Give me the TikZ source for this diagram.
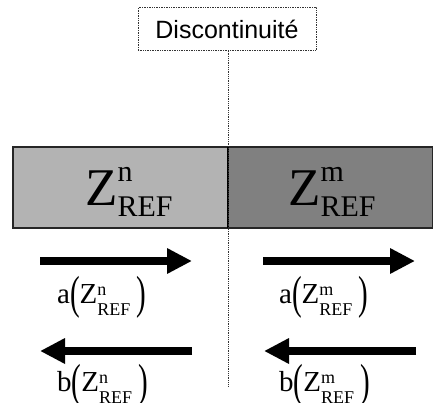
\documentclass[tikz,border=0pt]{standalone}
\usepackage{fontspec}
\setmainfont{Liberation Serif}
\newfontfamily\arialf{Liberation Sans}
\usepackage{graphicx}
\usetikzlibrary{arrows.meta}
\definecolor{lgray}{HTML}{B3B3B3}
\definecolor{dgray}{HTML}{808080}
\newcommand{\zlab}[2]{\fontsize{29}{29}\selectfont #1\raisebox{-5pt}{\scalebox{1}[1.6]{(}}Z\makebox[0pt][l]{\raisebox{8pt}{\fontsize{18}{18}\selectfont #2}}\raisebox{-12pt}{\fontsize{18}{18}\selectfont REF}\hspace{6pt}\raisebox{-5pt}{\scalebox{1}[1.6]{)}}}
\newcommand{\zbig}[1]{\fontsize{53}{53}\selectfont Z\makebox[0pt][l]{\raisebox{24pt}{\fontsize{30}{30}\selectfont #1}}\raisebox{-11pt}{\fontsize{30}{30}\selectfont REF}}
\tikzset{
  wave/.style={line width=7.5pt,-{Triangle[length=25pt,width=24pt]}},
  lbl/.style={inner sep=0pt,anchor=base west},
  dots/.style={densely dotted,line width=0.8pt,draw=black!80}
}
\begin{document}
\begin{tikzpicture}[x=1pt,y=-1pt]
\useasboundingbox (0,0) rectangle (433,403);
% blocks
\path[fill=lgray] (13,147) rectangle (228,228);
\path[fill=dgray] (228,147) rectangle (433,228);
\draw[line width=1.4pt,draw=black!85] (13,147) rectangle (432.3,228);
\draw[line width=1.2pt] (228,147) -- (228,228);
% discontinuity box
\node[draw,dots,line width=0.7pt,minimum width=178pt,minimum height=43pt,inner sep=0pt,font=\arialf\fontsize{25}{25}\selectfont] (disc) at (227,29) {Discontinuité};
\coordinate (lineend) at (228,386);
\draw[dots] (disc.south -| lineend) -- (lineend);
% big labels
\node[lbl] (zn) at (85,206) {\zbig{n}};
\node[lbl] (zm) at (288,206) {\zbig{m}};
% arrows
\coordinate (a1s) at (40,261); \coordinate (a1e) at (192,261);
\coordinate (a2s) at (263,261); \coordinate (a2e) at (415,261);
\coordinate (b1s) at (192,351); \coordinate (b1e) at (40,351);
\coordinate (b2s) at (416,351); \coordinate (b2e) at (264,351);
\draw[wave] (a1s) -- (a1e);
\draw[wave] (a2s) -- (a2e);
\draw[wave] (b1s) -- (b1e);
\draw[wave] (b2s) -- (b2e);
% small labels
\node[lbl] (la1) at (57,303) {\zlab{a}{n}};
\node[lbl] (la2) at (279,303) {\zlab{a}{m}};
\node[lbl] (lb1) at (57,391) {\zlab{b}{n}};
\node[lbl] (lb2) at (279,391) {\zlab{b}{m}};
\end{tikzpicture}
\end{document}
